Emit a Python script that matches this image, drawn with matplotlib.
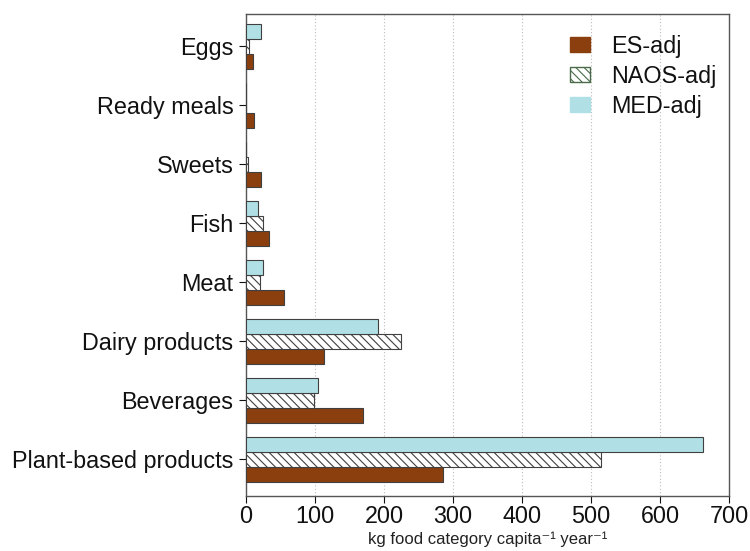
import numpy as np
import matplotlib

matplotlib.use("Agg")
import matplotlib.pyplot as plt
from matplotlib.patches import Patch

plt.rcParams["font.family"] = ["Liberation Sans", "DejaVu Sans"]
plt.rcParams["hatch.linewidth"] = 0.8

# categories, bottom to top
categories = ["Plant-based products", "Beverages", "Dairy products", "Meat",
              "Fish", "Sweets", "Ready meals", "Eggs"]
es_adj = [285, 169, 113, 55, 33, 22, 12, 10]
naos_adj = [515, 98, 224, 21, 24, 3, 0, 4]
med_adj = [662, 104, 192, 24, 18, 0, 0, 22]

ES_COLOR = "#8b3f0e"
MED_COLOR = "#b0e0e6"
EDGE = "#404040"
FS = 16.8

fig = plt.figure(figsize=(7.5, 5.51), dpi=100)
ax = fig.add_axes([0.328, 0.099, 0.644, 0.876])

y = np.arange(len(categories))
h = 0.255
ax.barh(y - h, es_adj, height=h, color=ES_COLOR, edgecolor=EDGE, linewidth=0.8, zorder=3)
ax.barh(y, naos_adj, height=h, color="white", edgecolor=EDGE, hatch="\\\\\\\\",
        linewidth=0.8, zorder=3)
ax.barh(y + h, med_adj, height=h, color=MED_COLOR, edgecolor=EDGE, linewidth=0.8, zorder=3)

ax.set_xlim(0, 700)
ax.set_ylim(-0.63, 7.55)
ax.set_xticks(np.arange(0, 701, 100))
ax.set_yticks(y)
ax.set_yticklabels(categories)
ax.tick_params(axis="both", labelsize=FS, colors="#111111", length=5, width=0.8)
ax.tick_params(axis="y", pad=4)
ax.tick_params(axis="x", pad=1.5)

for v in range(100, 700, 100):
    ax.axvline(v, color="#bbbbbb", linestyle=(0, (1, 2)), linewidth=0.8, zorder=1)

for s in ax.spines.values():
    s.set_color("#555555")
    s.set_linewidth(1.0)

ax.set_xlabel("kg food category capita\u207b\u00b9 year\u207b\u00b9", fontsize=12, color="#222222")
ax.xaxis.set_label_coords(0.5, -0.072)

handles = [
    Patch(facecolor=ES_COLOR, edgecolor=ES_COLOR, label="ES-adj"),
    Patch(facecolor="white", edgecolor="#4a6a4a", hatch="\\\\\\\\", label="NAOS-adj"),
    Patch(facecolor=MED_COLOR, edgecolor=MED_COLOR, label="MED-adj"),
]
leg = ax.legend(handles=handles, loc="upper left", frameon=False, fontsize=FS,
                handlelength=0.85, handleheight=0.6, labelspacing=0.3,
                handletextpad=0.9, bbox_to_anchor=(0.628, 1.0))
for t in leg.get_texts():
    t.set_color("#111111")

fig.savefig("out.png", dpi=100)
